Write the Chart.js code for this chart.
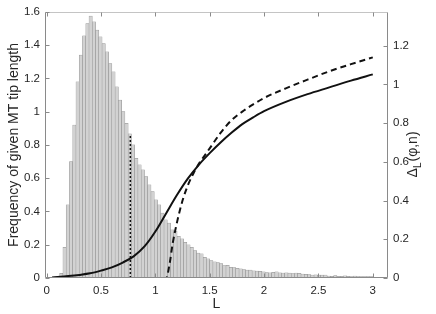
<!DOCTYPE html>
<html>
<head>
<meta charset="utf-8">
<script src="https://cdn.jsdelivr.net/npm/chart.js@4.4.0/dist/chart.umd.min.js"></script>
<style>
  html, body { margin: 0; padding: 0; background: #fff; }
  #wrap { width: 436px; height: 314px; }
</style>
</head>
<body>
<div id="wrap"><canvas id="chart" width="436" height="314"></canvas></div>
<script>
(function () {
  // histogram of tip lengths (left axis)
  var binStart = 0.12;
  var binWidth = 0.03;
  var histValues = [
    0.028, 0.185, 0.44, 0.70, 0.92, 1.18, 1.34, 1.456, 1.53, 1.575,
    1.54, 1.49, 1.45, 1.41, 1.36, 1.29, 1.24, 1.15, 1.07, 1.00,
    0.93, 0.867, 0.80, 0.72, 0.68, 0.65, 0.61, 0.56, 0.52, 0.47,
    0.44, 0.39, 0.35, 0.33, 0.29, 0.28, 0.25, 0.235, 0.215, 0.20,
    0.185, 0.165, 0.15, 0.145, 0.125, 0.115, 0.105, 0.097, 0.092, 0.087,
    0.075, 0.076, 0.064, 0.063, 0.058, 0.055, 0.05, 0.047, 0.047, 0.043,
    0.041, 0.040, 0.037, 0.033, 0.031, 0.034, 0.037, 0.031, 0.030, 0.031,
    0.029, 0.027, 0.030, 0.028, 0.024, 0.022, 0.020, 0.018, 0.019, 0.018,
    0.017, 0.018, 0.012, 0.010, 0.014, 0.010, 0.010, 0.013, 0.010, 0.009,
    0.012, 0.009, 0.008, 0.008, 0.008, 0.008
  ];

  // solid curve (right axis)
  var solidL = [0.05, 0.2, 0.3, 0.4, 0.5, 0.6, 0.7, 0.8, 0.9, 1.0, 1.1, 1.2, 1.3, 1.4, 1.5,
    1.6, 1.7, 1.8, 1.9, 2.0, 2.2, 2.4, 2.6, 2.8, 3.0];
  var solidVal = [0.003, 0.01, 0.016, 0.024, 0.038, 0.055, 0.08, 0.112, 0.163, 0.24, 0.335, 0.43, 0.515, 0.585, 0.645,
    0.70, 0.75, 0.795, 0.83, 0.862, 0.91, 0.95, 0.985, 1.02, 1.052];

  // dashed curve (right axis)
  var dashedL = [0.05, 1.1, 1.13, 1.16, 1.2, 1.25, 1.3, 1.35, 1.4, 1.45, 1.5, 1.6, 1.7, 1.8, 1.9,
    2.0, 2.2, 2.4, 2.6, 2.8, 3.0];
  var dashedVal = [0, 0, 0.07, 0.18, 0.29, 0.40, 0.48, 0.54, 0.59, 0.63, 0.67, 0.75, 0.815, 0.86, 0.897,
    0.93, 0.98, 1.025, 1.068, 1.105, 1.14];

  // dotted marker (left axis)
  var markerL = 0.77;
  var markerTop = 0.86;

  var xTicks = [0, 0.5, 1, 1.5, 2, 2.5, 3];
  var leftTicks = [0, 0.2, 0.4, 0.6, 0.8, 1, 1.2, 1.4, 1.6];
  var rightTicks = [0, 0.2, 0.4, 0.6, 0.8, 1, 1.2];

  var fontFamily = '"Liberation Sans", Arial, Helvetica, sans-serif';
  var textColor = '#262626';
  var axisColor = '#8a8a8a';

  function pairs(xs, ys) {
    return xs.map(function (x, i) { return { x: x, y: ys[i] }; });
  }

  function fmt(v) {
    return String(Math.round(v * 10) / 10);
  }

  function fixTicks(list) {
    return function (scale) {
      scale.ticks = list.map(function (v) { return { value: v }; });
    };
  }

  var histData = histValues.map(function (v, i) {
    return { x: binStart + (i + 0.5) * binWidth, y: v };
  });

  var frame = {
    id: 'frame',
    afterDraw: function (chart) {
      var ctx = chart.ctx;
      var a = chart.chartArea;
      var sx = chart.scales.x, sy = chart.scales.y, sy2 = chart.scales.y2;
      var L = Math.round(a.left) + 0.5, R = Math.round(a.right) - 0.5;
      var T = Math.round(a.top) + 0.5, B = Math.round(a.bottom) - 0.5;
      var tick = 4;

      ctx.save();
      ctx.lineWidth = 1;
      ctx.strokeStyle = '#c4c4c4';
      ctx.beginPath();
      ctx.moveTo(L, T); ctx.lineTo(R, T);
      ctx.stroke();

      ctx.strokeStyle = axisColor;
      ctx.beginPath();
      ctx.moveTo(L, T); ctx.lineTo(L, B); ctx.lineTo(R, B); ctx.lineTo(R, T);
      xTicks.forEach(function (v) {
        var px = Math.round(sx.getPixelForValue(v)) + 0.5;
        ctx.moveTo(px, B); ctx.lineTo(px, B - tick);
        ctx.moveTo(px, T); ctx.lineTo(px, T + tick);
      });
      leftTicks.forEach(function (v) {
        var py = Math.round(sy.getPixelForValue(v)) + 0.5;
        ctx.moveTo(L, py); ctx.lineTo(L + tick, py);
      });
      rightTicks.forEach(function (v) {
        var py = Math.round(sy2.getPixelForValue(v)) + 0.5;
        ctx.moveTo(R, py); ctx.lineTo(R - tick, py);
      });
      ctx.stroke();

      // axis titles
      var cy = (a.top + a.bottom) / 2;
      ctx.fillStyle = textColor;
      ctx.font = '14px ' + fontFamily;
      ctx.textAlign = 'center';
      ctx.textBaseline = 'middle';
      ctx.fillText('L', (a.left + a.right) / 2, 304);

      ctx.save();
      ctx.translate(14, cy);
      ctx.rotate(-Math.PI / 2);
      ctx.fillText('Frequency of given MT tip length', 0, 0);
      ctx.restore();

      ctx.save();
      ctx.translate(413, cy + 10);
      ctx.rotate(-Math.PI / 2);
      ctx.textAlign = 'left';
      var big = '14px ' + fontFamily, small = '10px ' + fontFamily;
      ctx.font = big;
      var w1 = ctx.measureText('\u0394').width;
      var w3 = ctx.measureText('(\u03C6,n)').width;
      ctx.font = small;
      var w2 = ctx.measureText('L').width;
      var x0 = -(w1 + w2 + w3) / 2;
      ctx.font = big;
      ctx.fillText('\u0394', x0, 0);
      ctx.font = small;
      ctx.fillText('L', x0 + w1, 5);
      ctx.font = big;
      ctx.fillText('(\u03C6,n)', x0 + w1 + w2 + 1, 0);
      ctx.restore();

      ctx.restore();
    }
  };

  new Chart(document.getElementById('chart'), {
    type: 'bar',
    data: {
      datasets: [
        {
          type: 'line',
          data: pairs(solidL, solidVal),
          yAxisID: 'y2',
          borderColor: '#111111',
          borderWidth: 2,
          pointRadius: 0,
          cubicInterpolationMode: 'monotone',
          order: 0
        },
        {
          type: 'line',
          data: pairs(dashedL, dashedVal),
          yAxisID: 'y2',
          borderColor: '#111111',
          borderWidth: 2,
          borderDash: [6, 4],
          pointRadius: 0,
          cubicInterpolationMode: 'monotone',
          order: 1
        },
        {
          type: 'line',
          data: pairs([markerL, markerL], [0, markerTop]),
          yAxisID: 'y',
          borderColor: '#111111',
          borderWidth: 1.5,
          borderDash: [2, 2],
          pointRadius: 0,
          tension: 0,
          order: 2
        },
        {
          type: 'bar',
          data: histData,
          yAxisID: 'y',
          backgroundColor: '#d2d2d2',
          borderColor: '#8c8c8c',
          borderWidth: 0.5,
          barPercentage: 1,
          categoryPercentage: 1,
          order: 3
        }
      ]
    },
    options: {
      responsive: false,
      animation: false,
      devicePixelRatio: 1,
      layout: { padding: { top: 8, left: 0, right: 0, bottom: 0 } },
      plugins: { legend: { display: false }, tooltip: { enabled: false } },
      scales: {
        x: {
          type: 'linear',
          offset: false,
          min: -0.015,
          max: 3.14,
          afterBuildTicks: fixTicks(xTicks),
          afterFit: function (s) { s.height = 36; },
          grid: { display: false, drawTicks: false },
          border: { display: false },
          ticks: { padding: 6, color: textColor, font: { family: fontFamily, size: 11.5 }, callback: fmt, maxRotation: 0 }
        },
        y: {
          position: 'left',
          min: 0,
          max: 1.6,
          afterBuildTicks: fixTicks(leftTicks),
          afterFit: function (s) { s.width = 45; },
          grid: { display: false, drawTicks: false },
          border: { display: false },
          ticks: { padding: 5, color: textColor, font: { family: fontFamily, size: 11.5 }, callback: fmt }
        },
        y2: {
          position: 'right',
          min: 0,
          max: 1.375,
          afterBuildTicks: fixTicks(rightTicks),
          afterFit: function (s) { s.width = 48; },
          grid: { display: false, drawTicks: false },
          border: { display: false },
          ticks: { padding: 5, color: textColor, font: { family: fontFamily, size: 11.5 }, callback: fmt }
        }
      }
    },
    plugins: [frame]
  });
})();
</script>
</body>
</html>
